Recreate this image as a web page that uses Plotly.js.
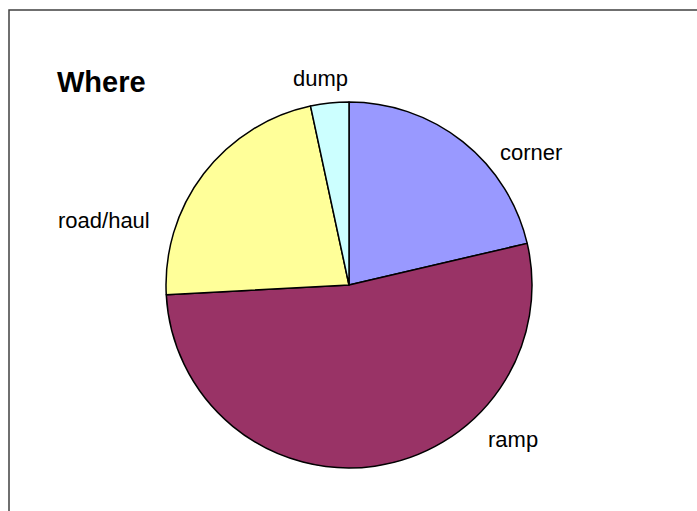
<!DOCTYPE html>
<html>
<head>
<meta charset="utf-8">
<script src="https://cdn.plot.ly/plotly-3.0.1.min.js"></script>
<style>html,body{margin:0;padding:0;background:#fff;}#chart{width:697px;height:511px;}</style>
</head>
<body>
<div id="chart"></div>
<script>
// Data
var categories = ["corner", "ramp", "road/haul", "dump"];
var counts = [19, 47, 20, 3];
var sliceColors = ["#9999FF", "#993366", "#FFFF99", "#CCFFFF"];
var chartTitle = "Where";
// label anchor positions in pixels (text placement only)
var labelPx = [[531, 152], [513, 439], [104, 220], [320, 78]];

var W = 697, H = 511;
var cx = 349, cy = 285, r = 183;

var trace = {
  type: "pie",
  labels: categories,
  values: counts,
  sort: false,
  direction: "clockwise",
  rotation: 0,
  textinfo: "none",
  hoverinfo: "label+value+percent",
  marker: {colors: sliceColors, line: {color: "#000000", width: 1.5}},
  domain: {x: [(cx - r) / W, (cx + r) / W], y: [(H - cy - r) / H, (H - cy + r) / H]},
  showlegend: false
};

var annotations = categories.map(function (c, i) {
  return {
    text: c, xref: "paper", yref: "paper",
    x: labelPx[i][0] / W, y: 1 - labelPx[i][1] / H,
    xanchor: "center", yanchor: "middle", showarrow: false,
    font: {family: "Liberation Sans, Arial, sans-serif", size: 22, color: "#000"}
  };
});

var layout = {
  width: W, height: H,
  margin: {l: 0, r: 0, t: 0, b: 0},
  paper_bgcolor: "#fff",
  plot_bgcolor: "#fff",
  title: {
    text: "<b>" + chartTitle + "</b>",
    x: 57 / W, xanchor: "left", y: 1 - 82 / H, yanchor: "middle",
    font: {family: "Liberation Sans, Arial, sans-serif", size: 29, color: "#000"}
  },
  annotations: annotations,
  shapes: [{
    type: "rect", xref: "paper", yref: "paper",
    x0: 9 / W, x1: 1.2, y0: -0.2, y1: 1 - 10 / H,
    line: {color: "#404040", width: 1.5}, fillcolor: "rgba(0,0,0,0)"
  }]
};

Plotly.newPlot("chart", [trace], layout, {displayModeBar: false, staticPlot: true});
</script>
</body>
</html>
